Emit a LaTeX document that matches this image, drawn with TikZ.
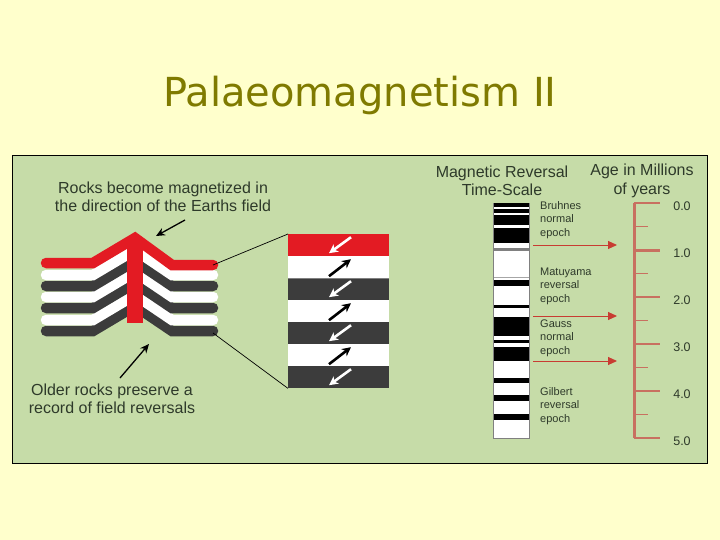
\documentclass[tikz,border=0pt]{standalone}
\usepackage{fontspec}
\setmainfont{Liberation Sans}
\newfontfamily\titlefont{DejaVu Sans}
\usetikzlibrary{arrows.meta}
\definecolor{bg}{HTML}{FFFFCC}
\definecolor{panel}{HTML}{C6DCA8}
\definecolor{olive}{HTML}{7F7A00}
\definecolor{rockred}{HTML}{E31B23}
\definecolor{rockdark}{HTML}{3C3C3C}
\definecolor{txt}{HTML}{2E3A2A}
\definecolor{scalec}{HTML}{C87060}
\definecolor{arrred}{HTML}{C83C32}
\begin{document}
\begin{tikzpicture}[x=1pt,y=-1pt,
  lbl/.style={font=\fontsize{16}{18.5}\selectfont, text=txt, align=center, inner sep=0},
  ep/.style={font=\fontsize{11}{13.5}\selectfont, text=txt, align=left, anchor=west, inner sep=0},
  lay/.style={line width=10.5, line cap=round, line join=miter},
  ptr/.style={-{Stealth[length=9,width=8]}, line width=1.3},
  sarrw/.style={-{Stealth[length=9,width=9]}, line width=2.6, white},
  sarrb/.style={-{Stealth[length=9,width=9]}, line width=2.6, black},
  tick/.style={scalec, line width=1.5},
  num/.style={font=\fontsize{12.5}{14}\selectfont, text=txt, inner sep=0}]
\fill[bg] (0,0) rectangle (720,540);
\useasboundingbox (0,0) rectangle (720,540);
\node[font=\titlefont\fontsize{40}{46}\selectfont, text=olive] (title) at (360,95) {Palaeomagnetism II};
\draw[fill=panel, draw=black, line width=0.8] (12,155) rectangle (707,463);

% folded layers
\foreach \y/\c in {331/rockdark,320/white,308/rockdark,297/white,286/rockdark,275/white}{
  \draw[lay, \c] (46,\y) -- (93,\y) -- (135,\y-25) -- (172,\y) -- (213,\y);
}
\fill[rockred] (127,240) rectangle (143,323);
\draw[lay, rockred] (46,263) -- (93,263) -- (135,238) -- (172,265) -- (213,265);
\coordinate (fu) at (213,265);
\coordinate (fl) at (213,333);

% stack
\node[fill=rockred, minimum width=101, minimum height=22, inner sep=0, anchor=north west] (s1) at (288,234) {};
\foreach \i/\c [count=\k from 2] in {1/white,2/rockdark,3/white,4/rockdark,5/white,6/rockdark}{
  \node[fill=\c, minimum width=101, minimum height=22, inner sep=0, anchor=north west] (s\k) at (288,234+22*\i) {};
}
\draw[gray, line width=1] (s3.north west) -- (s3.north east);
\foreach \k in {1,3,5,7}{ \draw[sarrw] ([shift={(63,-8)}]s\k.west) -- ([shift={(41,8)}]s\k.west); }
\foreach \k in {2,4,6}{ \draw[sarrb] ([shift={(41,9)}]s\k.west) -- ([shift={(63,-8)}]s\k.west); }
\draw[line width=0.7] (fu) -- (s1.north west);
\draw[line width=0.7] (fl) -- (s7.south west);

% labels left
\node[lbl] (t1) at (163,197) {Rocks become magnetized in\\the direction of the Earths field};
\coordinate (a1s) at (185,220); \coordinate (a1e) at (156,236);
\draw[ptr] (a1s) -- (a1e);
\node[lbl] (t2) at (112,399) {Older rocks preserve a\\record of field reversals};
\coordinate (a2s) at (120,378); \coordinate (a2e) at (149,344);
\draw[ptr] (a2s) -- (a2e);

% time scale
\node[lbl] (h1) at (502,181) {Magnetic Reversal\\Time-Scale};
\node[lbl] (h2) at (642,181) {Age in Millions\\of years};
\node[draw=gray, fill=white, line width=1, minimum width=36, minimum height=235, inner sep=0, anchor=north west] (col) at (493,203) {};
\foreach \a/\b in {203/207,209/213,215/225,228/243,280/286,305/307.5,317/336,340/343,347/361,378/383,395/401,414/420}{
  \fill[black] (493.5,\a) rectangle (528.5,\b);
}
\fill[gray] (493.5,248) rectangle (528.5,251);
\fill[gray!70] (493.5,276.5) rectangle (528.5,278);

\node[ep] (e1) at (540,220) {Bruhnes\\normal\\epoch};
\node[ep] (e2) at (540,286) {Matuyama\\reversal\\epoch};
\node[ep] (e3) at (540,338) {Gauss\\normal\\epoch};
\node[ep] (e4) at (540,406) {Gilbert\\reversal\\epoch};

\foreach \y in {245,316,361}{
  \draw[arrred, line width=1, -{Triangle[length=9,width=8]}] (533,\y) -- (617,\y);
}

\draw[scalec, line width=3] (634,203) -- (634,438);
\foreach \i in {0,...,5}{
  \draw[tick] (634,203+47*\i) -- (660,203+47*\i);
  \node[num] (n\i) at (682,206+47*\i) {\i.0};
}
\draw[scalec, line width=3] (634,250) -- (660,250);
\foreach \i in {0,...,4}{ \draw[tick] (634,226.5+47*\i) -- (648,226.5+47*\i); }
\end{tikzpicture}
\end{document}
